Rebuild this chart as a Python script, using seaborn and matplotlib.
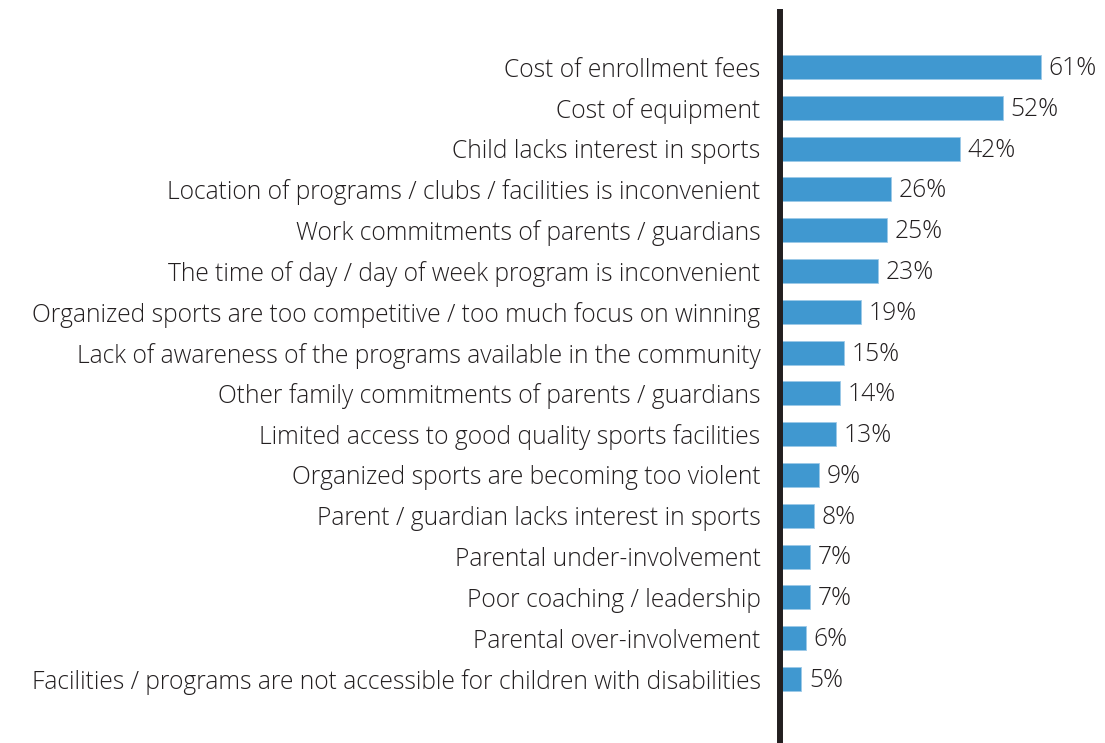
import matplotlib
matplotlib.use("Agg")
import matplotlib.pyplot as plt
import seaborn as sns
import pandas as pd

reasons = [
    "Cost of enrollment fees",
    "Cost of equipment",
    "Child lacks interest in sports",
    "Location of programs / clubs / facilities is inconvenient",
    "Work commitments of parents / guardians",
    "The time of day / day of week program is inconvenient",
    "Organized sports are too competitive / too much focus on winning",
    "Lack of awareness of the programs available in the community",
    "Other family commitments of parents / guardians",
    "Limited access to good quality sports facilities",
    "Organized sports are becoming too violent",
    "Parent / guardian lacks interest in sports",
    "Parental under-involvement",
    "Poor coaching / leadership",
    "Parental over-involvement",
    "Facilities / programs are not accessible for children with disabilities",
]
percent = [61, 52, 42, 26, 25, 23, 19, 15, 14, 13, 9, 8, 7, 7, 6, 5]

df = pd.DataFrame({"reason": reasons, "percent": percent})

sns.set_theme(style="white")
plt.rcParams["font.family"] = ["Open Sans", "DejaVu Sans"]
plt.rcParams["font.weight"] = "light"

W, H = 1105, 743
fig = plt.figure(figsize=(W / 100, H / 100), dpi=100)
ax = fig.add_axes([780 / W, 0, (W - 780) / W, (743 - 12) / H])

bar_color = "#4098d0"
text_color = "#231f20"
fs = 17.75

sns.barplot(data=df, x="percent", y="reason", orient="h", color=bar_color,
            saturation=1, width=0.59, edgecolor="#9cc9e8", linewidth=0.6, ax=ax)

for i, v in enumerate(percent):
    ax.annotate(f"{v}%", xy=(v, i), xytext=(5.5, -1), textcoords="offset points",
                ha="left", va="center", fontsize=fs, color=text_color,
                fontweight="light")

ax.set_xlim(0, (W - 780) / 4.28)
ax.set_ylim(16.57, -1.35)
ax.set_xlabel("")
ax.set_ylabel("")
ax.set_xticks([])
ax.tick_params(axis="y", length=0, pad=14, labelsize=fs, labelcolor=text_color)
for lbl in ax.get_yticklabels():
    lbl.set_fontweight("light")

for side in ["top", "right", "bottom"]:
    ax.spines[side].set_visible(False)
ax.spines["left"].set_color("#231f20")
ax.spines["left"].set_linewidth(4.3)

fig.savefig("out.png", dpi=100)
